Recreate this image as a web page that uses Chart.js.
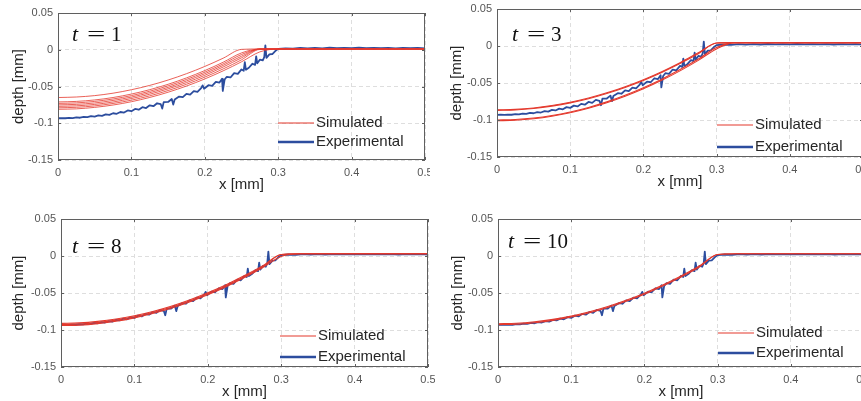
<!DOCTYPE html>
<html>
<head>
<meta charset="utf-8">
<script src="https://cdn.jsdelivr.net/npm/chart.js@4.4.1/dist/chart.umd.min.js"></script>
<style>
  html, body { margin: 0; padding: 0; background: #fff; overflow: hidden; }
  body { position: relative; width: 861px; height: 401px; }
  .panel { position: absolute; }
</style>
</head>
<body>
<div class="panel" style="left:0;top:0"><canvas id="c1" width="430" height="200"></canvas></div>
<div class="panel" style="left:430px;top:0"><canvas id="c2" width="440" height="200"></canvas></div>
<div class="panel" style="left:0;top:200px"><canvas id="c3" width="435" height="201"></canvas></div>
<div class="panel" style="left:430px;top:200px"><canvas id="c4" width="440" height="201"></canvas></div>

<script>
/* ---------- DATA ---------- */
// measured profile (same in every panel)
const expX = [0.000,0.005,0.010,0.015,0.020,0.025,0.030,0.035,0.040,0.045,0.050,0.055,0.060,0.065,0.070,0.075,0.080,0.085,0.090,0.095,
  0.100,0.105,0.110,0.115,0.120,0.125,0.130,0.135,0.140,0.142,0.144,0.150,0.155,0.157,0.159,0.165,0.170,0.175,0.180,0.185,0.190,0.195,0.197,0.199,
  0.205,0.210,0.215,0.220,0.2235,0.2245,0.227,0.230,0.235,0.240,0.245,0.250,0.253,0.2545,0.256,0.260,0.265,0.2685,0.270,0.2715,0.275,0.279,0.281,0.2825,0.284,0.288,0.292,0.296,
  0.300,0.310,0.320,0.330,0.340,0.350,0.360,0.370,0.380,0.390,0.400,0.410,0.420,0.430,0.440,0.450,0.460,0.470,0.480,0.490,0.500];
const expY = [-0.0932,-0.0929,-0.0932,-0.0926,-0.0929,-0.0921,-0.0925,-0.0913,-0.0917,-0.0904,-0.0909,-0.0893,-0.0899,-0.0880,-0.0886,-0.0864,-0.0871,-0.0847,-0.0855,-0.0826,
  -0.0836,-0.0806,-0.0816,-0.0782,-0.0793,-0.0756,-0.0768,-0.0728,-0.0741,-0.0800,-0.0712,-0.0710,-0.0670,-0.0745,-0.0676,-0.0637,-0.0645,-0.0600,-0.0610,-0.0562,-0.0572,-0.0522,-0.0485,-0.0530,
  -0.0482,-0.0490,-0.0436,-0.0447,-0.0395,-0.0560,-0.0405,-0.0368,-0.0377,-0.0318,-0.0328,-0.0268,-0.0285,-0.0170,-0.0272,-0.0245,-0.0190,-0.0205,-0.0090,-0.0185,-0.0135,-0.0145,-0.0100,0.0060,-0.0110,-0.0062,-0.0058,-0.0018,
  0.0012,0.0020,0.0014,0.0024,0.0018,0.0026,0.0020,0.0027,0.0021,0.0026,0.0022,0.0027,0.0021,0.0026,0.0022,0.0025,0.0020,0.0025,0.0021,0.0024,0.0018];

// simulated profiles, all on the same x grid
const simX = [0, 0.025, 0.05, 0.075, 0.1, 0.125, 0.15, 0.175, 0.2, 0.225, 0.25, 0.275, 0.3, 0.325, 0.35, 0.4, 0.45, 0.5];

const simT1 = [
  [-0.0650,-0.0643,-0.0624,-0.0591,-0.0544,-0.0485,-0.0412,-0.0326,-0.0227,-0.0115, 0.0005, 0.0010, 0.0010, 0.0010, 0.0010, 0.0010, 0.0010, 0.0010],
  [-0.0710,-0.0703,-0.0683,-0.0650,-0.0603,-0.0543,-0.0470,-0.0383,-0.0283,-0.0170,-0.0043, 0.0010, 0.0010, 0.0010, 0.0010, 0.0010, 0.0010, 0.0010],
  [-0.0730,-0.0723,-0.0703,-0.0670,-0.0624,-0.0564,-0.0491,-0.0404,-0.0305,-0.0192,-0.0065, 0.0010, 0.0010, 0.0010, 0.0010, 0.0010, 0.0010, 0.0010],
  [-0.0750,-0.0743,-0.0724,-0.0690,-0.0644,-0.0584,-0.0512,-0.0425,-0.0326,-0.0213,-0.0088, 0.0010, 0.0010, 0.0010, 0.0010, 0.0010, 0.0010, 0.0010],
  [-0.0770,-0.0763,-0.0744,-0.0711,-0.0664,-0.0605,-0.0532,-0.0447,-0.0348,-0.0235,-0.0110, 0.0010, 0.0010, 0.0010, 0.0010, 0.0010, 0.0010, 0.0010],
  [-0.0790,-0.0783,-0.0764,-0.0731,-0.0686,-0.0627,-0.0555,-0.0470,-0.0372,-0.0261,-0.0137, 0.0005, 0.0010, 0.0010, 0.0010, 0.0010, 0.0010, 0.0010],
  [-0.0810,-0.0804,-0.0784,-0.0752,-0.0707,-0.0649,-0.0578,-0.0494,-0.0397,-0.0287,-0.0164,-0.0029, 0.0010, 0.0010, 0.0010, 0.0010, 0.0010, 0.0010]
];
const simT3 = [
  [-0.0862,-0.0856,-0.0837,-0.0805,-0.0760,-0.0703,-0.0633,-0.0550,-0.0455,-0.0347,-0.0226,-0.0092, 0.0040, 0.0045, 0.0045, 0.0045, 0.0045, 0.0045],
  [-0.0870,-0.0864,-0.0845,-0.0813,-0.0769,-0.0712,-0.0642,-0.0560,-0.0465,-0.0357,-0.0237,-0.0104, 0.0040, 0.0045, 0.0045, 0.0045, 0.0045, 0.0045],
  [-0.1000,-0.0993,-0.0973,-0.0939,-0.0891,-0.0830,-0.0755,-0.0666,-0.0564,-0.0449,-0.0319,-0.0176,-0.0020, 0.0045, 0.0045, 0.0045, 0.0045, 0.0045],
  [-0.1010,-0.1003,-0.0983,-0.0949,-0.0902,-0.0841,-0.0767,-0.0680,-0.0579,-0.0464,-0.0336,-0.0194,-0.0039, 0.0045, 0.0045, 0.0045, 0.0045, 0.0045]
];
const simT8 = [
  [-0.0910,-0.0904,-0.0884,-0.0852,-0.0807,-0.0749,-0.0678,-0.0594,-0.0497,-0.0388,-0.0265,-0.0130, 0.0020, 0.0030, 0.0030, 0.0030, 0.0030, 0.0030],
  [-0.0925,-0.0919,-0.0899,-0.0867,-0.0822,-0.0763,-0.0692,-0.0608,-0.0511,-0.0401,-0.0278,-0.0143, 0.0020, 0.0030, 0.0030, 0.0030, 0.0030, 0.0030],
  [-0.0940,-0.0934,-0.0914,-0.0882,-0.0836,-0.0778,-0.0707,-0.0622,-0.0525,-0.0415,-0.0292,-0.0155,-0.0006, 0.0030, 0.0030, 0.0030, 0.0030, 0.0030]
];
const simT10 = [
  [-0.0915,-0.0909,-0.0889,-0.0857,-0.0812,-0.0754,-0.0683,-0.0599,-0.0503,-0.0393,-0.0271,-0.0136, 0.0020, 0.0030, 0.0030, 0.0030, 0.0030, 0.0030],
  [-0.0928,-0.0922,-0.0902,-0.0870,-0.0825,-0.0767,-0.0696,-0.0612,-0.0516,-0.0406,-0.0284,-0.0148, 0.0020, 0.0030, 0.0030, 0.0030, 0.0030, 0.0030]
];

const xTicks = [0, 0.1, 0.2, 0.3, 0.4, 0.5];
const yTicks = [0.05, 0, -0.05, -0.1, -0.15];
const legendLabels = ["Simulated", "Experimental"];

/* ---------- STYLE ---------- */
const RED  = "#e4392d";
const BLUE = "#2c4d9e";
const SANS = "'Liberation Sans', Arial, sans-serif";
const SERIF = "'Liberation Serif', 'Times New Roman', serif";

// layout of each panel (canvas pixels)
const panels = [
  { id: "c1", t: "1",  sim: simT1,  simW: 0.8, yW: 58, xH: 40, padT: 13, padR: 5, yTitlePad: 10, xTitlePad: 6,
    tx: 72, ty: 35, lx: 278, ly1: 123, ly2: 142 },
  { id: "c2", t: "3",  sim: simT3,  simW: 1.1, yW: 67, xH: 43, padT: 9,  padR: 7, yTitlePad: 18, xTitlePad: 9,
    tx: 82, ty: 35, lx: 287, ly1: 125, ly2: 147 },
  { id: "c3", t: "8",  sim: simT8,  simW: 1.1, yW: 61, xH: 34, padT: 19, padR: 7, yTitlePad: 10, xTitlePad: 0,
    tx: 72, ty: 47, lx: 280, ly1: 136, ly2: 157 },
  { id: "c4", t: "10", sim: simT10, simW: 1.1, yW: 68, xH: 34, padT: 19, padR: 6, yTitlePad: 19, xTitlePad: 0,
    tx: 78, ty: 42, lx: 288, ly1: 133, ly2: 153 }
];

const fmt = v => String(Math.round(v * 100) / 100);

/* ---------- DECORATION PLUGIN (box, inner ticks, t-label, legend) ---------- */
const decor = {
  id: "decor",
  afterDatasetsDraw(chart) {
    const { ctx, chartArea: a, scales: { x, y } } = chart;
    ctx.save();
    ctx.strokeStyle = "#5f5f5f";
    ctx.lineWidth = 1;
    ctx.strokeRect(Math.round(a.left) + 0.5, Math.round(a.top) + 0.5,
                   Math.round(a.right - a.left) - 1, Math.round(a.bottom - a.top) - 1);
    ctx.beginPath();
    xTicks.forEach(v => {
      const px = Math.round(x.getPixelForValue(v)) + 0.5;
      ctx.moveTo(px, a.bottom); ctx.lineTo(px, a.bottom - 3);
      ctx.moveTo(px, a.top);    ctx.lineTo(px, a.top + 3);
    });
    yTicks.forEach(v => {
      const py = Math.round(y.getPixelForValue(v)) + 0.5;
      ctx.moveTo(a.left, py);  ctx.lineTo(a.left + 3, py);
      ctx.moveTo(a.right, py); ctx.lineTo(a.right - 3, py);
    });
    ctx.stroke();
    ctx.restore();
  },
  afterDraw(chart, args, o) {
    const ctx = chart.ctx;
    ctx.save();
    // "t = n" label
    ctx.fillStyle = "#111";
    ctx.textBaseline = "middle";
    ctx.font = "italic 22px " + SERIF;
    ctx.fillText("t", o.tx, o.ty);
    ctx.save();
    ctx.translate(o.tx + 15, o.ty);
    ctx.scale(1.55, 1);
    ctx.font = "21px " + SERIF;
    ctx.fillText("=", 0, 0);
    ctx.restore();
    ctx.font = "21px " + SERIF;
    ctx.fillText(o.t, o.tx + 39, o.ty);

    // legend
    ctx.strokeStyle = RED; ctx.lineWidth = 1.2;
    ctx.beginPath(); ctx.moveTo(o.lx, o.ly1); ctx.lineTo(o.lx + 36, o.ly1); ctx.stroke();
    ctx.strokeStyle = BLUE; ctx.lineWidth = 2.5;
    ctx.beginPath(); ctx.moveTo(o.lx, o.ly2); ctx.lineTo(o.lx + 36, o.ly2); ctx.stroke();
    ctx.fillStyle = "#262626";
    ctx.font = "15px " + SANS;
    ctx.fillText(legendLabels[0], o.lx + 38, o.ly1);
    ctx.fillText(legendLabels[1], o.lx + 38, o.ly2);
    ctx.restore();
  }
};

/* ---------- BUILD CHARTS ---------- */
function buildPanel(p) {
  const simSets = p.sim.map(curve => ({
    data: simX.map((x, i) => ({ x, y: curve[i] })),
    borderColor: RED,
    borderWidth: p.simW,
    pointRadius: 0,
    cubicInterpolationMode: "monotone",
    fill: false
  }));
  const expSet = {
    data: expX.map((x, i) => ({ x, y: expY[i] })),
    borderColor: BLUE,
    borderWidth: 1.8,
    borderJoinStyle: "round",
    pointRadius: 0,
    tension: 0,
    fill: false
  };

  new Chart(document.getElementById(p.id), {
    type: "line",
    data: { datasets: [...simSets, expSet] },
    options: {
      responsive: false,
      animation: false,
      layout: { padding: { top: p.padT, right: p.padR, left: 0, bottom: 0 } },
      plugins: {
        legend: { display: false },
        tooltip: { enabled: false },
        decor: { t: p.t, tx: p.tx, ty: p.ty, lx: p.lx, ly1: p.ly1, ly2: p.ly2 }
      },
      scales: {
        x: {
          type: "linear", min: 0, max: 0.5,
          afterBuildTicks: s => { s.ticks = xTicks.map(v => ({ value: v })); },
          afterFit: s => { s.height = p.xH; s.paddingLeft = 0; s.paddingRight = 0; },
          ticks: { callback: fmt, padding: 6, color: "#555", font: { family: SANS, size: 11 }, maxRotation: 0 },
          grid: { color: "#dedede", drawTicks: false },
          border: { display: false, dash: [4, 3] },
          title: { display: true, text: "x [mm]", color: "#262626",
                   font: { family: SANS, size: 15 }, padding: { top: 0, bottom: p.xTitlePad } }
        },
        y: {
          type: "linear", min: -0.15, max: 0.05,
          afterBuildTicks: s => { s.ticks = yTicks.map(v => ({ value: v })); },
          afterFit: s => { s.width = p.yW; s.paddingTop = 0; s.paddingBottom = 0; },
          ticks: { callback: fmt, padding: 5, color: "#555", font: { family: SANS, size: 11 } },
          grid: { color: "#dedede", drawTicks: false },
          border: { display: false, dash: [4, 3] },
          title: { display: true, text: "depth [mm]", color: "#262626",
                   font: { family: SANS, size: 15 }, padding: { top: p.yTitlePad, bottom: 0 } }
        }
      }
    },
    plugins: [decor]
  });
}

panels.forEach(buildPanel);
</script>
</body>
</html>
